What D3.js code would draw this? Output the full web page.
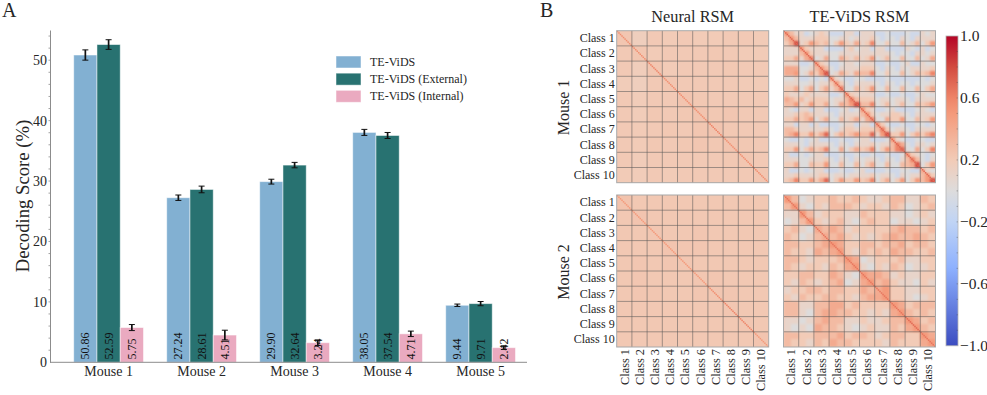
<!DOCTYPE html>
<html>
<head>
<meta charset="utf-8">
<script src="https://cdn.jsdelivr.net/npm/d3@7"></script>
<style>
  html, body { margin: 0; padding: 0; background: #fff; }
  svg { display: block; }
  text { font-family: "Liberation Serif", serif; fill: #262626; }
</style>
</head>
<body>
<svg width="987" height="395"></svg>
<script>
"use strict";

const mice = ["Mouse 1", "Mouse 2", "Mouse 3", "Mouse 4", "Mouse 5"];
const seriesNames = ["TE-ViDS", "TE-ViDS (External)", "TE-ViDS (Internal)"];
const seriesColors = ["#82b0d2", "#287271", "#eaaac0"];

const teVids = [50.86, 27.24, 29.90, 38.05, 9.44];
const teVidsExternal = [52.59, 28.61, 32.64, 37.54, 9.71];
const teVidsInternal = [5.75, 4.51, 3.24, 4.71, 2.42];

const teVidsErr = [0.85, 0.45, 0.4, 0.5, 0.2];
const teVidsExternalErr = [0.8, 0.55, 0.45, 0.5, 0.35];
const teVidsInternalErr = [0.5, 0.8, 0.45, 0.45, 0.3];

const yTicks = [0, 10, 20, 30, 40, 50];
const classes = ["Class 1", "Class 2", "Class 3", "Class 4", "Class 5", "Class 6", "Class 7", "Class 8", "Class 9", "Class 10"];
const colorTicks = [1, 0.6, 0.2, -0.2, -0.6, -1];

// similarity matrices, values in tenths (3 = 0.3).
const neuralMouse1 = [
    [2.3, 1.7, 2.1, 2.0, 2.1, 2.0, 2.0, 2.1, 2.1, 2.0],
    [2.1, 2.3, 2.0, 2.1, 2.1, 2.1, 2.2, 2.1, 2.0, 2.0],
    [2.1, 1.8, 2.3, 2.0, 2.1, 2.1, 2.1, 2.2, 2.1, 2.1],
    [1.9, 1.7, 2.1, 2.3, 2.1, 2.1, 2.1, 2.1, 2.0, 2.0],
    [2.1, 1.9, 2.1, 2.1, 2.4, 2.2, 2.1, 2.1, 2.1, 2.1],
    [2.1, 1.9, 2.2, 2.1, 2.2, 2.4, 2.2, 2.3, 2.1, 2.1],
    [2.1, 2.0, 2.1, 2.2, 2.1, 2.3, 2.4, 2.2, 2.1, 2.1],
    [2.1, 2.0, 2.2, 2.1, 2.2, 2.3, 2.2, 2.4, 2.2, 2.1],
    [2.1, 1.9, 2.1, 2.1, 2.1, 2.1, 2.1, 2.2, 2.3, 2.1],
    [2.0, 1.9, 2.1, 2.0, 2.1, 2.1, 2.1, 2.1, 2.1, 2.3]
];
const neuralMouse2 = [
    [2.5, 2.2, 2.2, 2.2, 2.2, 2.2, 2.2, 2.2, 2.2, 2.2],
    [2.2, 2.4, 2.2, 2.2, 2.2, 2.2, 2.2, 2.2, 2.2, 2.2],
    [2.2, 2.2, 2.3, 2.2, 2.2, 2.3, 2.2, 2.2, 2.2, 2.2],
    [2.2, 2.2, 2.2, 2.4, 2.3, 2.3, 2.2, 2.2, 2.2, 2.2],
    [2.2, 2.3, 2.2, 2.3, 2.3, 2.2, 2.2, 2.2, 2.2, 2.2],
    [2.2, 2.3, 2.2, 2.2, 2.2, 2.3, 2.3, 2.2, 2.2, 2.2],
    [2.2, 2.3, 2.3, 2.2, 2.2, 2.3, 2.3, 2.3, 2.2, 2.2],
    [2.2, 2.2, 2.2, 2.2, 2.2, 2.2, 2.2, 2.3, 2.2, 2.2],
    [2.2, 2.2, 2.2, 2.2, 2.2, 2.2, 2.2, 2.2, 2.3, 2.2],
    [2.2, 2.2, 2.2, 2.2, 2.2, 2.2, 2.2, 2.2, 2.2, 2.4]
];
const teVidsMouse1 = [
    [5,3,1, 1,-1,0, 1,2,1, -1,-1,-1, 1,1,-1, 1,1,1, -1,-1,0, -1,-1,-1, 0,-1,-1, 1,0,1],
    [3,5,3, 1,1,1, 2,2,2, 0,0,1, 1,0,1, 1,1,2, 0,-1,0, 0,-1,1, 0,-1,1, 1,1,1],
    [2,4,8, 1,2,5, 3,2,3, 0,2,5, 2,1,4, 1,2,6, 0,0,2, 0,0,3, 0,1,3, 0,2,5],
    [1,1,1, 5,2,1, 1,1,-1, -1,-1,-1, 1,2,0, 1,1,-1, 1,1,-1, -1,-1,-1, 1,0,-1, 1,-1,0],
    [1,1,1, 3,5,2, 1,1,1, 0,0,1, 1,1,1, 1,1,1, 1,1,1, 0,-1,0, 0,-1,1, 1,0,1],
    [2,2,4, 1,4,6, 0,1,4, 0,0,4, 2,1,3, 1,2,5, 0,1,3, 0,0,3, 0,0,3, 0,1,4],
    [1,1,1, -1,-1,0, 5,2,1, -1,-1,0, 1,1,0, 1,1,1, -1,-1,0, -1,-1,0, 1,-1,-1, 1,0,0],
    [4,4,4, 0,0,1, 3,5,3, 0,-1,1, 1,1,1, 2,2,2, 0,-1,1, 0,-1,1, 0,1,1, 1,1,2],
    [4,4,5, 0,1,4, 2,5,8, 0,1,4, 2,1,4, 3,3,6, 0,0,2, 0,0,3, 0,1,3, 2,3,6],
    [0,0,1, -1,-1,0, -1,0,-1, 5,1,0, -1,-1,0, 0,-1,-1, -1,-1,0, -1,-1,-1, -1,-1,-1, 0,-1,0],
    [1,1,1, 0,0,1, 0,1,1, 2,5,2, 0,-1,1, 1,1,1, 0,-1,1, 0,-1,0, 0,-1,0, 0,0,1],
    [2,2,4, 0,2,4, 0,2,4, 1,3,6, 0,0,3, 1,2,5, 0,0,3, 0,0,3, 0,0,3, 0,2,4],
    [2,1,1, 1,2,1, 1,1,1, -1,-1,0, 5,2,1, 1,1,1, -1,-1,0, -1,-1,0, -1,-1,0, 1,0,0],
    [4,3,2, 3,1,2, 2,2,2, 0,1,1, 3,6,3, 2,2,2, 0,1,1, 0,1,1, 0,-1,1, 1,1,1],
    [3,3,5, 1,2,5, 2,2,4, 0,1,4, 3,5,8, 3,3,6, 0,1,3, 0,1,3, 0,0,3, 2,3,5],
    [1,0,-1, 1,1,-1, 1,1,-1, -1,-1,0, 1,-1,0, 5,2,1, -1,-1,0, 1,-1,-1, -1,-1,0, 1,0,-1],
    [1,1,2, 2,3,2, 1,1,1, 0,-1,1, 1,1,1, 3,5,2, 0,1,1, 2,2,1, 0,-1,1, 1,1,1],
    [2,2,4, 2,3,5, 0,2,4, 0,0,3, 1,2,4, 1,4,6, 0,0,4, 2,2,5, 0,0,3, 1,2,5],
    [1,1,-1, 1,1,-1, 1,-1,-1, -1,-1,0, 1,1,-1, 1,1,-1, 5,2,0, -1,-1,0, -1,-1,0, 0,-1,0],
    [3,3,2, 1,1,1, 1,1,2, 0,-1,1, 2,2,1, 2,2,2, 3,6,2, 0,1,1, 0,-1,1, 1,1,1],
    [3,4,6, 2,2,5, 2,4,7, 0,2,4, 2,3,5, 3,3,7, 1,5,8, 2,2,5, 0,2,4, 2,4,6],
    [0,-1,-1, 0,-1,0, 1,-1,-1, -1,-1,0, -1,-1,0, 1,1,-1, -1,-1,0, 5,1,0, -1,-1,0, 0,-1,-1],
    [1,1,1, 0,-1,1, 1,1,1, 0,-1,1, 0,-1,1, 1,1,2, 0,1,1, 3,6,4, 0,-1,1, 1,0,1],
    [2,2,5, 0,2,4, 2,3,6, 0,0,4, 0,2,4, 2,3,6, 0,2,5, 3,6,7, 0,0,4, 0,2,6],
    [1,-1,-1, 0,-1,0, 1,1,-1, -1,-1,0, -1,-1,0, -1,-1,0, -1,-1,0, -1,-1,0, 5,2,1, 0,-1,0],
    [1,1,1, 0,0,1, 1,1,2, 0,-1,1, 0,-1,1, 0,1,1, 0,-1,1, 0,-1,1, 3,6,3, 0,-1,1],
    [2,2,4, 0,0,3, 2,2,5, 0,0,3, 0,0,3, 0,2,4, 0,0,3, 0,0,3, 3,4,8, 0,2,5],
    [1,-1,-1, 0,-1,0, 1,1,-1, -1,-1,0, -1,-1,0, 1,-1,-1, -1,-1,0, -1,-1,0, 0,-1,-1, 4,1,0],
    [1,1,2, 1,1,1, 1,2,2, 0,1,1, 0,1,1, 1,1,2, 0,1,1, 0,-1,1, 0,1,1, 3,5,2],
    [2,3,6, 2,2,5, 2,4,7, 0,2,5, 2,2,5, 2,3,6, 0,2,4, 0,2,5, 0,2,5, 3,5,8]
];
const teVidsMouse2 = [
    [5,3, 0,1, 2,2, 3,2, 2,3, 2,1, 1,2, 3,3, 1,1, 3,2],
    [3,5, 1,0, 2,1, 3,3, 3,2, 1,2, 2,1, 3,2, 0,1, 2,3],
    [1,1, 5,3, 1,2, 2,2, 1,1, 3,2, 2,2, 1,1, 0,1, 2,1],
    [0,1, 3,5, 2,1, 2,3, 1,0, 2,3, 2,2, 0,1, 1,0, 1,2],
    [2,3, 1,0, 4,3, 4,3, 1,2, 2,2, 2,2, 3,4, 3,3, 2,3],
    [3,2, 0,1, 3,4, 3,4, 2,1, 2,1, 2,3, 4,3, 3,4, 3,2],
    [3,3, 2,2, 3,4, 5,4, 2,2, 3,3, 2,3, 3,4, 2,3, 3,2],
    [3,2, 2,1, 4,3, 4,5, 2,1, 3,2, 3,2, 4,3, 3,2, 2,3],
    [3,3, 2,1, 2,2, 2,3, 5,4, 0,1, 2,2, 2,3, 1,1, 2,2],
    [3,2, 1,2, 2,1, 3,2, 4,5, 1,0, 2,1, 3,2, 0,1, 1,2],
    [2,2, 3,3, 2,2, 4,3, 1,0, 5,4, 4,3, 1,2, 1,1, 2,2],
    [2,1, 3,2, 1,2, 3,4, 0,1, 4,5, 3,4, 2,1, 1,0, 2,1],
    [1,2, 2,3, 3,2, 3,3, 2,2, 4,3, 4,5, 2,2, 1,1, 2,2],
    [2,1, 3,2, 2,3, 3,2, 2,1, 3,4, 4,5, 2,2, 1,0, 1,2],
    [3,3, 1,1, 3,3, 4,4, 2,3, 2,2, 2,2, 5,4, 2,3, 3,3],
    [3,3, 1,0, 3,4, 4,3, 3,2, 2,1, 2,1, 4,5, 3,2, 3,2],
    [1,1, 0,1, 3,4, 3,3, 1,1, 2,1, 1,2, 3,3, 5,4, 2,3],
    [1,0, 1,0, 4,3, 3,2, 1,0, 1,2, 1,1, 3,2, 4,5, 3,2],
    [3,3, 2,2, 3,3, 3,4, 2,3, 3,2, 1,2, 3,3, 2,2, 5,4],
    [3,2, 2,1, 3,2, 4,3, 3,2, 2,2, 2,1, 3,2, 2,2, 4,5]
];

// values on the fine diagonal line, one per class
const neuralMouse1Diag = [5.5, 5.5, 6, 5.5, 5.5, 5.5, 6, 5.5, 5.5, 5.5];
const neuralMouse2Diag = [5, 5, 5, 5, 5, 5, 5.5, 6, 6, 5];
const teVidsMouse1Diag = [7, 7, 7, 7, 7, 7, 7, 7, 7, 7];
const teVidsMouse2Diag = [6.5, 6.5, 6.5, 6.5, 6.5, 6.5, 6.5, 6.5, 7, 6.5];

// matplotlib coolwarm
const colorStops = [-1, -0.5, -0.2, 0, 0.2, 0.5, 0.6, 0.8, 1];
const colorValues = ["#3b4cc0", "#8db0fe", "#c0d4f5", "#dddcdc", "#f2cbb7", "#f49a7b", "#ee8468", "#d24b40", "#b40426"];

const svg = d3.select("svg");

// ---------- panel A ----------
const yScale = d3.scaleLinear().domain([0, 55]).range([362.3, 30]);
const xScale = d3.scaleBand()
    .domain(mice)
    .range([62.1, 527.1])
    .paddingInner(0.25)
    .paddingOuter(0.125);
const barScale = d3.scaleBand()
    .domain(d3.range(3))
    .range([0, xScale.bandwidth()]);

const barValues = [teVids, teVidsExternal, teVidsInternal];
const barErrs = [teVidsErr, teVidsExternalErr, teVidsInternalErr];

const barsG = svg.append("g");
barValues.forEach((vals, s) => {
    const g = barsG.append("g");
    g.selectAll("rect")
        .data(vals)
        .join("rect")
        .attr("x", (d, i) => xScale(mice[i]) + barScale(s))
        .attr("y", d => yScale(d))
        .attr("width", barScale.bandwidth())
        .attr("height", d => yScale(0) - yScale(d))
        .attr("fill", seriesColors[s])
        .attr("stroke", "#fff")
        .attr("stroke-opacity", 0.55)
        .attr("stroke-width", 0.9);

    g.selectAll("text")
        .data(vals)
        .join("text")
        .attr("transform", (d, i) => `translate(${xScale(mice[i]) + barScale(s) + barScale.bandwidth() / 2 + 4},359.5) rotate(-90)`)
        .attr("font-size", 12)
        .style("fill", "#111")
        .text(d => d.toFixed(2));

    const err = g.selectAll("g.err")
        .data(vals)
        .join("g")
        .attr("class", "err")
        .attr("transform", (d, i) => `translate(${xScale(mice[i]) + barScale(s) + barScale.bandwidth() / 2},0)`)
        .attr("stroke", "#111");
    err.append("line")
        .attr("y1", (d, i) => yScale(d - barErrs[s][i]))
        .attr("y2", (d, i) => yScale(d + barErrs[s][i]))
        .attr("stroke-width", 1.7);
    [-1, 1].forEach(sign => {
        err.append("line")
            .attr("x1", -3).attr("x2", 3)
            .attr("y1", (d, i) => yScale(d + sign * barErrs[s][i]))
            .attr("y2", (d, i) => yScale(d + sign * barErrs[s][i]))
            .attr("stroke-width", 1);
    });
});

const yAxis = svg.append("g")
    .attr("transform", "translate(50,0)")
    .call(d3.axisLeft(yScale).tickValues(yTicks).tickSize(0).tickPadding(3));
yAxis.selectAll("text").attr("font-size", 14).style("font-family", '"Liberation Serif", serif');
yAxis.select(".domain").attr("stroke", "#8c8c8c").attr("stroke-width", 1);

// small minor ticks on the spine
svg.append("g").selectAll("line")
    .data(d3.range(2, 55, 2))
    .join("line")
    .attr("x1", 48.5).attr("x2", 50)
    .attr("y1", d => yScale(d)).attr("y2", d => yScale(d))
    .attr("stroke", "#8c8c8c").attr("stroke-width", 0.8);

const xAxis = svg.append("g")
    .attr("transform", "translate(0,362.3)")
    .call(d3.axisBottom(xScale).tickSize(0).tickPadding(4));
xAxis.select(".domain").remove();
xAxis.selectAll("text").attr("font-size", 14).style("font-family", '"Liberation Serif", serif');
svg.append("line")
    .attr("x1", 50).attr("x2", 527)
    .attr("y1", 362.3).attr("y2", 362.3)
    .attr("stroke", "#8c8c8c").attr("stroke-width", 1);

svg.append("text")
    .attr("transform", "translate(29,196) rotate(-90)")
    .attr("text-anchor", "middle")
    .attr("font-size", 18.7)
    .text("Decoding Score (%)");

const legendY = d3.scalePoint().domain(seriesNames).range([62, 96.3]);
const legend = svg.append("g").selectAll("g")
    .data(seriesNames)
    .join("g")
    .attr("transform", d => `translate(336,${legendY(d)})`);
legend.append("rect")
    .attr("y", -6).attr("width", 25).attr("height", 12)
    .attr("fill", (d, i) => seriesColors[i])
    .attr("stroke", "#fff").attr("stroke-opacity", 0.55).attr("stroke-width", 0.9);
legend.append("text")
    .attr("x", 34).attr("y", 4)
    .attr("font-size", 12)
    .text(d => d);

svg.append("text").attr("x", 2).attr("y", 17).attr("font-size", 20).text("A");
svg.append("text").attr("x", 540).attr("y", 17).attr("font-size", 20).text("B");

// ---------- panel B ----------
const heatColor = d3.scaleLinear().domain(colorStops).range(colorValues).interpolate(d3.interpolateRgb);
const panelSize = 152;

const defs = svg.append("defs");
defs.append("filter")
    .attr("id", "soften")
    .attr("color-interpolation-filters", "sRGB")
    .append("feGaussianBlur")
    .attr("stdDeviation", 1.1);
defs.append("clipPath")
    .attr("id", "panelClip")
    .append("rect")
    .attr("width", panelSize).attr("height", panelSize);

function drawMatrix(x0, y0, matrix, diag, showY, showX, soft) {
    const g = svg.append("g").attr("transform", `translate(${x0},${y0})`);
    const cell = d3.scaleBand().domain(d3.range(matrix.length)).range([0, panelSize]);
    const classScale = d3.scaleBand().domain(classes).range([0, panelSize]);
    const fine = d3.scaleBand().domain(d3.range(100)).range([0, panelSize]);

    const cells = g.append("g").attr("clip-path", "url(#panelClip)");
    cells.append("rect")
        .attr("width", panelSize).attr("height", panelSize)
        .attr("fill", heatColor(d3.mean(matrix.flat()) / 10));
    const rows = cells.append("g");
    if (soft) rows.attr("filter", "url(#soften)");
    rows.selectAll("g.row")
        .data(matrix)
        .join("g")
        .attr("class", "row")
        .attr("transform", (row, r) => `translate(0,${cell(r)})`)
        .selectAll("rect")
        .data(row => row)
        .join("rect")
        .attr("x", (v, c) => cell(c))
        .attr("width", cell.bandwidth() + 0.3)
        .attr("height", cell.bandwidth() + 0.3)
        .attr("shape-rendering", "crispEdges")
        .attr("fill", v => heatColor(v / 10));

    // the bright self similarity line
    g.append("g").selectAll("rect")
        .data(d3.range(100))
        .join("rect")
        .attr("x", i => fine(i))
        .attr("y", i => fine(i))
        .attr("width", fine.bandwidth())
        .attr("height", fine.bandwidth())
        .attr("fill", i => heatColor(diag[Math.floor(i / 10)] / 10));

    // class separators
    const inner = classes.slice(1);
    g.append("g").selectAll("line")
        .data(inner)
        .join("line")
        .attr("x1", d => classScale(d)).attr("x2", d => classScale(d))
        .attr("y1", 0).attr("y2", panelSize)
        .attr("stroke", "#555").attr("stroke-opacity", 0.6).attr("stroke-width", 0.9);
    g.append("g").selectAll("line")
        .data(inner)
        .join("line")
        .attr("y1", d => classScale(d)).attr("y2", d => classScale(d))
        .attr("x1", 0).attr("x2", panelSize)
        .attr("stroke", "#555").attr("stroke-opacity", 0.6).attr("stroke-width", 0.9);
    g.append("rect")
        .attr("width", panelSize).attr("height", panelSize)
        .attr("fill", "none").attr("stroke", "#a8a8a8").attr("stroke-width", 1);

    if (showY) {
        const ax = g.append("g").call(d3.axisLeft(classScale).tickSize(0).tickPadding(2));
        ax.select(".domain").remove();
        ax.selectAll("text").attr("font-size", 12).style("font-family", '"Liberation Serif", serif');
    }
    if (showX) {
        const ax = g.append("g")
            .attr("transform", `translate(0,${panelSize})`)
            .call(d3.axisBottom(classScale).tickSize(0).tickPadding(0));
        ax.select(".domain").remove();
        ax.selectAll("text")
            .attr("font-size", 12.3)
            .style("font-family", '"Liberation Serif", serif')
            .attr("text-anchor", "end")
            .attr("dy", "0.35em")
            .attr("x", 0).attr("y", 0)
            .attr("transform", "translate(0,2) rotate(-90)");
    }
}

drawMatrix(616.7, 30.7, neuralMouse1, neuralMouse1Diag, true, false, false);
drawMatrix(783.5, 30.7, teVidsMouse1, teVidsMouse1Diag, false, false, true);
drawMatrix(616.7, 195, neuralMouse2, neuralMouse2Diag, true, true, false);
drawMatrix(783.5, 195, teVidsMouse2, teVidsMouse2Diag, false, true, true);

svg.append("text").attr("x", 692.7).attr("y", 22).attr("text-anchor", "middle").attr("font-size", 16.3).text("Neural RSM");
svg.append("text").attr("x", 859.5).attr("y", 22).attr("text-anchor", "middle").attr("font-size", 16.3).text("TE-ViDS RSM");
svg.append("text").attr("transform", "translate(568.5,107.5) rotate(-90)").attr("text-anchor", "middle").attr("font-size", 16).text("Mouse 1");
svg.append("text").attr("transform", "translate(568.5,272) rotate(-90)").attr("text-anchor", "middle").attr("font-size", 16).text("Mouse 2");

// colour bar
const barScaleY = d3.scaleLinear().domain([1, -1]).range([36, 345.8]);
const grad = defs.append("linearGradient")
    .attr("id", "coolwarm")
    .attr("x1", 0).attr("x2", 0).attr("y1", 0).attr("y2", 1);
grad.selectAll("stop")
    .data(colorStops.slice().reverse())
    .join("stop")
    .attr("offset", d => (1 - d) / 2)
    .attr("stop-color", d => heatColor(d));
svg.append("rect")
    .attr("x", 946).attr("y", barScaleY(1))
    .attr("width", 12).attr("height", barScaleY(-1) - barScaleY(1))
    .attr("fill", "url(#coolwarm)")
    .attr("stroke", "#b5b5b5").attr("stroke-width", 0.8);

svg.append("g").selectAll("line")
    .data(d3.range(-9, 10))
    .join("line")
    .attr("x1", 956.5).attr("x2", 958)
    .attr("y1", d => barScaleY(d / 10)).attr("y2", d => barScaleY(d / 10))
    .attr("stroke", "#444").attr("stroke-opacity", 0.5).attr("stroke-width", 0.7);

const colorAxis = svg.append("g")
    .attr("transform", "translate(958,0)")
    .call(d3.axisRight(barScaleY).tickValues(colorTicks).tickFormat(d3.format(".1f")).tickSize(0).tickPadding(2));
colorAxis.select(".domain").remove();
colorAxis.selectAll("text").attr("font-size", 15.5).style("font-family", '"Liberation Serif", serif');
</script>
</body>
</html>
